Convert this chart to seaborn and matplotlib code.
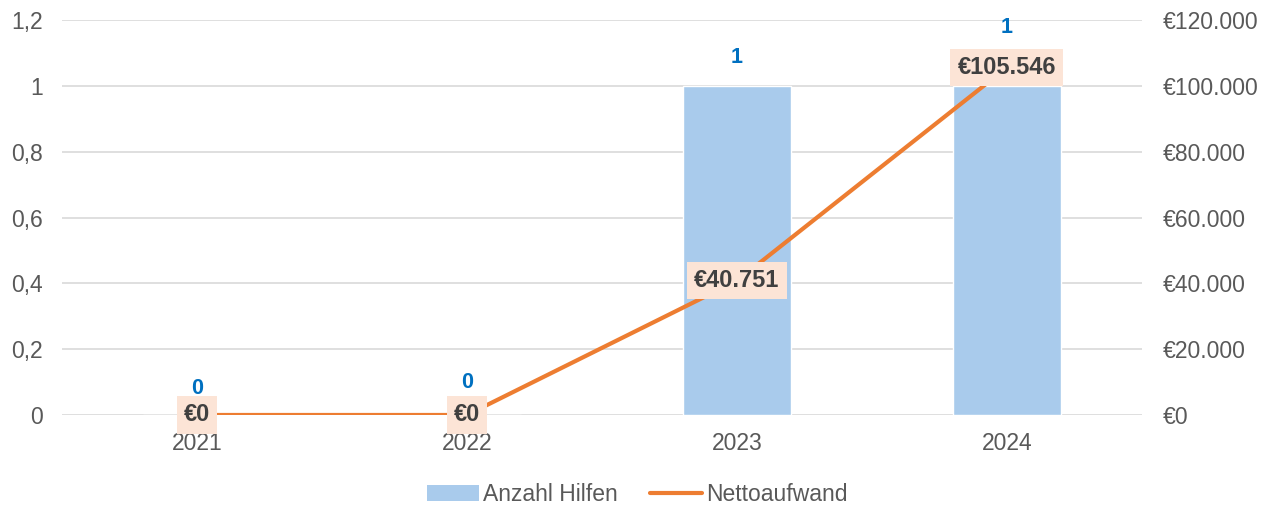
import matplotlib
matplotlib.use("Agg")
import matplotlib.pyplot as plt
import matplotlib.ticker as mticker
from matplotlib.patches import Patch
from matplotlib.lines import Line2D
import pandas as pd
import seaborn as sns

# data
years = ["2021", "2022", "2023", "2024"]
anzahl_hilfen = [0, 0, 1, 1]
nettoaufwand = [0, 0, 40751, 105546]
count_offsets = [26, 32, 28, 58]  # label lift in px

df = pd.DataFrame({"Jahr": years, "Anzahl Hilfen": anzahl_hilfen, "Nettoaufwand": nettoaufwand})

sns.set_theme(style="white")
plt.rcParams["font.family"] = ["Liberation Sans", "DejaVu Sans"]

bar_col = "#A9CBEC"
line_col = "#ED7D31"
txt_col = "#595959"
grid_col = "#D9D9D9"
fs = 16.5

fig = plt.figure(figsize=(12.74, 5.07), dpi=100)
ax = fig.add_axes([0.0487, 0.1815, 0.8475, 0.779])

sns.barplot(data=df, x="Jahr", y="Anzahl Hilfen", color=bar_col, width=0.4,
            saturation=1, ax=ax, zorder=2)
ax.set_ylim(0, 1.2)
ax.set_xlim(-0.5, 3.5)
ax.set_yticks([0, 0.2, 0.4, 0.6, 0.8, 1.0, 1.2])
ax.yaxis.set_major_formatter(mticker.FuncFormatter(
    lambda v, p: f"{v:.1f}".replace(".", ",").replace(",0", "") if v != 0 else "0"))
ax.grid(axis="y", color=grid_col, linewidth=1.2, zorder=0)
ax.set_axisbelow(True)
ax.set_xlabel("")
ax.set_ylabel("")
for s in ax.spines.values():
    s.set_visible(False)
ax.tick_params(axis="y", length=0, labelsize=fs, labelcolor=txt_col, pad=14)
ax.tick_params(axis="x", length=0, labelsize=fs, labelcolor=txt_col, pad=12)

ax2 = ax.twinx()
sns.lineplot(data=df, x="Jahr", y="Nettoaufwand", color=line_col, linewidth=3,
             ax=ax2, zorder=3)
ax2.set_ylim(0, 120000)
ax2.set_yticks(range(0, 120001, 20000))
ax2.yaxis.set_major_formatter(mticker.FuncFormatter(
    lambda v, p: "€" + f"{v:,.0f}".replace(",", ".")))
ax2.set_ylabel("")
for s in ax2.spines.values():
    s.set_visible(False)
ax2.tick_params(axis="y", length=0, labelsize=fs, labelcolor=txt_col, pad=15)

# count labels
for i, (v, off) in enumerate(zip(anzahl_hilfen, count_offsets)):
    ax.annotate(f"{v}", (i, v), xytext=(0, off), textcoords="offset pixels",
                ha="center", va="center", fontsize=15.5, fontweight="bold",
                color="#0070C0", zorder=6)

# cost labels
for i, v in enumerate(nettoaufwand):
    ax2.annotate("€" + f"{v:,.0f}".replace(",", "."), (i, v), ha="center", va="center",
                 fontsize=17, fontweight="bold", color="#404040", zorder=7,
                 bbox=dict(boxstyle="square,pad=0.3", fc="#FCE4D6", ec="none"))

handles = [Patch(facecolor=bar_col, edgecolor="none"),
           Line2D([0], [0], color=line_col, linewidth=3)]
fig.legend(handles, ["Anzahl Hilfen", "Nettoaufwand"], loc="center",
           bbox_to_anchor=(0.5, 0.025), ncol=2, frameon=False, fontsize=fs,
           labelcolor=txt_col, handlelength=2.3, handletextpad=0.15, columnspacing=1.4)

fig.savefig("out.png", dpi=100)
